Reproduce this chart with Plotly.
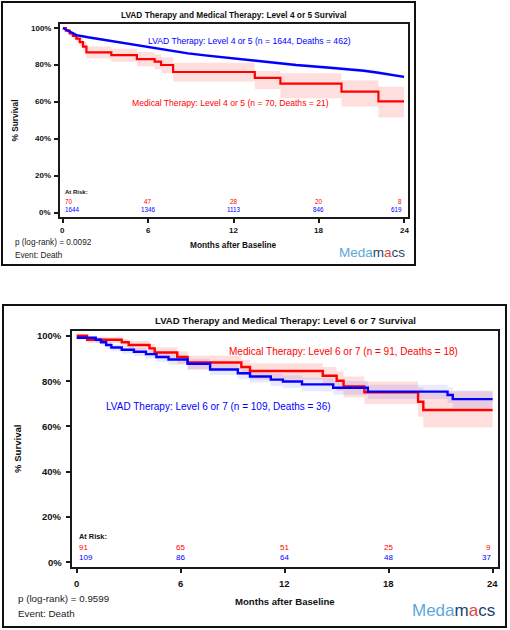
import plotly.graph_objects as go

# ---------------- data ----------------
# Top panel: Level 4 or 5
top_lvad_t = [0, 0.47, 0.94, 1.76, 2.93, 4.1, 5.3, 6.45, 7.6, 8.8, 10.0, 11.6, 14.1, 16.4, 18.8, 21.2, 22.2, 23.2, 24.0]
top_lvad_s = [100, 98.0, 96.2, 95.0, 93.5, 92.2, 90.6, 89.0, 87.5, 86.3, 85.2, 83.8, 81.8, 80.0, 78.5, 76.9, 75.8, 74.7, 73.6]
top_lvad_lo = [100, 97.5, 95.7, 94.4, 92.9, 91.6, 89.9, 88.3, 86.8, 85.6, 84.5, 83.1, 81.0, 79.2, 77.6, 76.0, 74.9, 73.8, 72.7]
top_lvad_hi = [100, 98.5, 96.7, 95.6, 94.1, 92.8, 91.3, 89.7, 88.2, 87.0, 85.9, 84.5, 82.6, 80.8, 79.4, 77.8, 76.7, 75.6, 74.5]

top_med_t = [0, 0.2, 0.47, 0.7, 0.94, 1.18, 1.41, 1.65, 3.4, 5.2, 6.45, 6.9, 7.75, 13.5, 15.3, 19.6, 22.2, 24]
top_med_s = [100, 98.6, 97.1, 95.7, 94.3, 92.4, 90.0, 86.8, 85.4, 83.2, 81.8, 80.0, 76.2, 73.0, 69.9, 65.6, 60.3, 60.3]
top_med_lo = [100, 97.5, 95.5, 93.8, 92.0, 89.8, 87.2, 83.5, 81.8, 79.3, 77.7, 75.6, 71.0, 67.0, 62.0, 57.4, 51.6, 51.6]
top_med_hi = [100, 99.5, 98.5, 97.4, 96.3, 94.8, 92.6, 90.0, 88.8, 87.0, 85.7, 84.2, 81.2, 76.8, 75.5, 71.8, 68.2, 68.2]

top_atrisk_x = [0, 6, 12, 18, 24]
top_atrisk_med = ["70", "47", "28", "20", "8"]
top_atrisk_lvad = ["1644", "1346", "1113", "846", "619"]

# Bottom panel: Level 6 or 7
bot_med_t = [0, 0.6, 2.6, 3.0, 4.2, 4.5, 5.8, 6.4, 9.5, 10.0, 14.2, 15.0, 15.4, 16.6, 19.7, 20.0, 24]
bot_med_s = [100, 98.2, 97.1, 95.9, 94.4, 92.6, 90.6, 88.2, 86.2, 84.4, 82.3, 80.1, 77.6, 75.0, 70.8, 67.2, 67.2]
bot_med_lo = [100, 96.8, 95.3, 93.8, 92.0, 90.0, 87.6, 85.0, 82.6, 80.6, 78.0, 75.6, 72.8, 69.8, 64.2, 59.5, 59.5]
bot_med_hi = [100, 99.4, 98.6, 97.7, 96.4, 94.9, 93.2, 91.2, 89.4, 87.8, 86.2, 84.2, 82.0, 79.8, 77.0, 75.5, 75.5]

bot_lvad_t = [0, 1.1, 1.4, 1.7, 2.0, 2.6, 3.3, 4.0, 4.6, 5.3, 6.4, 7.7, 9.3, 10.0, 11.2, 11.9, 13.0, 14.8, 16.8, 21.4, 21.7, 24]
bot_lvad_s = [99.1, 98.2, 97.1, 95.9, 94.8, 93.8, 92.9, 91.9, 90.6, 89.5, 87.6, 85.1, 83.4, 82.0, 80.6, 79.8, 78.5, 77.0, 75.3, 73.8, 72.0, 72.0]
bot_lvad_lo = [98.2, 97.0, 95.8, 94.4, 93.2, 92.0, 91.0, 89.8, 88.4, 87.2, 85.2, 82.6, 80.8, 79.3, 77.8, 76.9, 75.5, 73.9, 72.1, 70.3, 68.0, 68.0]
bot_lvad_hi = [99.7, 99.1, 98.2, 97.2, 96.2, 95.4, 94.6, 93.8, 92.6, 91.6, 89.8, 87.4, 85.9, 84.6, 83.3, 82.5, 81.4, 80.0, 78.4, 77.1, 75.8, 75.8]

bot_atrisk_x = [0, 6, 12, 18, 24]
bot_atrisk_med = ["91", "65", "51", "25", "9"]
bot_atrisk_lvad = ["109", "86", "64", "48", "37"]

x_ticks = [0, 6, 12, 18, 24]
x_ticklabels = ["0", "6", "12", "18", "24"]
y_ticks = [0, 20, 40, 60, 80, 100]
y_ticklabels = ["0%", "20%", "40%", "60%", "80%", "100%"]

# ---------------- style ----------------
W, H = 510, 630
RED = "#ff0000"
BLUE = "#0000ff"
RED_BAND = "rgba(255,0,0,0.13)"
BLUE_BAND = "rgba(40,40,255,0.10)"
FONT = "Arial, Liberation Sans, sans-serif"
AX = "#1a1a1a"


def px(x):
    return x / W


def py(y):
    return 1 - y / H


fig = go.Figure()


def add_band(t, lo, hi, band, xa, ya, shape="hv"):
    fig.add_trace(go.Scatter(x=t, y=lo, mode="lines", line=dict(width=0, shape=shape),
                             xaxis=xa, yaxis=ya, showlegend=False, hoverinfo="skip"))
    fig.add_trace(go.Scatter(x=t, y=hi, mode="lines", line=dict(width=0, shape=shape),
                             fill="tonexty", fillcolor=band,
                             xaxis=xa, yaxis=ya, showlegend=False, hoverinfo="skip"))


# top panel
add_band(top_med_t, top_med_lo, top_med_hi, RED_BAND, "x", "y")
add_band(top_lvad_t, top_lvad_lo, top_lvad_hi, BLUE_BAND, "x", "y", shape="linear")
fig.add_trace(go.Scatter(x=top_med_t, y=top_med_s, mode="lines", line=dict(color=RED, width=2.2, shape="hv"),
                         xaxis="x", yaxis="y", showlegend=False))
fig.add_trace(go.Scatter(x=top_lvad_t, y=top_lvad_s, mode="lines", line=dict(color=BLUE, width=2.4, shape="linear"),
                         xaxis="x", yaxis="y", showlegend=False))

# bottom panel
add_band(bot_med_t, bot_med_lo, bot_med_hi, RED_BAND, "x2", "y2")
add_band(bot_lvad_t, bot_lvad_lo, bot_lvad_hi, BLUE_BAND, "x2", "y2")
fig.add_trace(go.Scatter(x=bot_med_t, y=bot_med_s, mode="lines", line=dict(color=RED, width=2.4, shape="hv"),
                         xaxis="x2", yaxis="y2", showlegend=False))
fig.add_trace(go.Scatter(x=bot_lvad_t, y=bot_lvad_s, mode="lines", line=dict(color=BLUE, width=2.4, shape="hv"),
                         xaxis="x2", yaxis="y2", showlegend=False))


def axis_common():
    return dict(showline=True, linecolor=AX, linewidth=1.6, mirror=True, ticks="outside",
                ticklen=4, tickwidth=1.5, tickcolor=AX, showgrid=False, zeroline=False,
                showticklabels=False)


fig.update_layout(
    width=W, height=H, margin=dict(l=0, r=0, t=0, b=0),
    paper_bgcolor="white", plot_bgcolor="white",
    xaxis=dict(domain=[px(60), px(408)], range=[-0.21, 24.28], anchor="y",
               tickvals=x_ticks, **axis_common()),
    yaxis=dict(domain=[py(217), py(24)], range=[-2.3, 102.2], anchor="x",
               tickvals=y_ticks, **axis_common()),
    xaxis2=dict(domain=[px(72), px(498)], range=[-0.27, 24.31], anchor="y2",
                tickvals=x_ticks, **axis_common()),
    yaxis2=dict(domain=[py(567), py(331)], range=[-2.2, 102.1], anchor="x2",
                tickvals=y_ticks, **axis_common()),
)

ann = []


def txt(x, y, text, size, color="#111", bold=False, xanchor="center", angle=0, xref="paper", yref="paper"):
    ann.append(dict(x=x, y=y, xref=xref, yref=yref, text=text, showarrow=False,
                    xanchor=xanchor, yanchor="middle", textangle=angle,
                    font=dict(family=FONT, size=size, color=color, weight="bold" if bold else "normal")))


# tick labels (positioned through the axes' own scales)
for v, lab in zip(y_ticks, y_ticklabels):
    txt(px(53), v, lab, 8, bold=True, xanchor="right", yref="y")
    txt(px(64), v, lab, 9.5, bold=True, xanchor="right", yref="y2")
for v, lab in zip(x_ticks, x_ticklabels):
    txt(v, py(230), lab, 8, bold=True, xref="x")
    txt(v, py(583), lab, 9.5, bold=True, xref="x2")

# ---- top panel texts ----
txt(px(233.5), py(15), "LVAD Therapy and Medical Therapy: Level 4 or 5 Survival", 8.3, bold=True)
txt(px(15), py(120.5), "% Survival", 8.3, bold=True, angle=-90)
txt(px(233.5), py(245), "Months after Baseline", 8.3, bold=True)
txt(px(13), py(243), "p (log-rank) = 0.0092", 8.2, color="#222", xanchor="left")
txt(px(13), py(255), "Event: Death", 8.2, color="#222", xanchor="left")
txt(px(249), py(40.7), "LVAD Therapy: Level 4 or 5 (n = 1644, Deaths = 462)", 8.6, color=BLUE)
txt(px(230.5), py(103.5), "Medical Therapy: Level 4 or 5 (n = 70, Deaths = 21)", 8.6, color=RED)
txt(0, 11.2, "At Risk:", 6, bold=True, xanchor="left", xref="x", yref="y")
for i, xv in enumerate(top_atrisk_x):
    xa = "left" if i == 0 else ("right" if i == len(top_atrisk_x) - 1 else "center")
    txt(xv, 6.3, top_atrisk_med[i], 6.3, color=RED, xanchor=xa, xref="x", yref="y")
    txt(xv, 2.0, top_atrisk_lvad[i], 6.3, color=BLUE, xanchor=xa, xref="x", yref="y")

logo = ('<span style="color:#5aa9dc">Meda</span><span style="color:#25426e">m</span>'
        '<span style="color:#e0463c">a</span><span style="color:#25426e">cs</span>')
txt(px(372), py(252), logo, 13.5, xanchor="center")

# ---- bottom panel texts ----
txt(px(285), py(320), "LVAD Therapy and Medical Therapy: Level 6 or 7 Survival", 9.6, bold=True)
txt(px(17), py(449), "% Survival", 9.6, bold=True, angle=-90)
txt(px(285), py(601), "Months after Baseline", 9.6, bold=True)
txt(px(16), py(598), "p (log-rank) = 0.9599", 9.8, color="#222", xanchor="left")
txt(px(16), py(613), "Event: Death", 9.8, color="#222", xanchor="left")
txt(px(343.5), py(351.7), "Medical Therapy: Level 6 or 7 (n = 91, Deaths = 18)", 10, color=RED)
txt(px(218), py(406.7), "LVAD Therapy: Level 6 or 7 (n = 109, Deaths = 36)", 10, color=BLUE)
txt(0, 11.5, "At Risk:", 7.4, bold=True, xanchor="left", xref="x2", yref="y2")
for i, xv in enumerate(bot_atrisk_x):
    xa = "left" if i == 0 else ("right" if i == len(bot_atrisk_x) - 1 else "center")
    txt(xv, 6.3, bot_atrisk_med[i], 8, color=RED, xanchor=xa, xref="x2", yref="y2")
    txt(xv, 1.9, bot_atrisk_lvad[i], 8, color=BLUE, xanchor=xa, xref="x2", yref="y2")
txt(px(453), py(610), logo, 17, xanchor="center")

fig.update_layout(annotations=ann)

# outer frames
fig.add_shape(type="rect", xref="paper", yref="paper", x0=px(2), x1=px(415), y0=py(265), y1=py(2),
              line=dict(color="#111", width=2))
fig.add_shape(type="rect", xref="paper", yref="paper", x0=px(3), x1=px(506), y0=py(627), y1=py(305),
              line=dict(color="#111", width=2))

fig.write_html("out.html", config={"displayModeBar": False},
               post_script="document.body.style.margin='0';document.body.style.overflow='hidden';")
